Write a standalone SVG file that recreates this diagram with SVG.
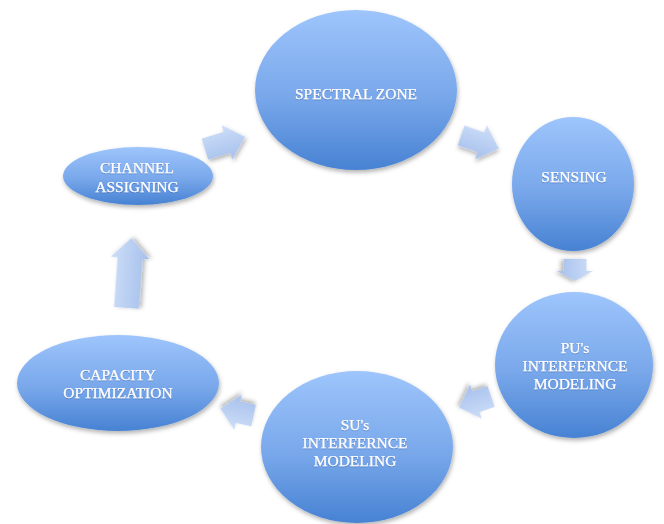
<svg xmlns="http://www.w3.org/2000/svg" width="664" height="524" viewBox="0 0 664 524">
  <defs>
    <linearGradient id="nodeFill" x1="0" y1="0" x2="0" y2="1">
      <stop offset="0" stop-color="#9ec5fc"/>
      <stop offset="0.55" stop-color="#78a7ea"/>
      <stop offset="1" stop-color="#4782d3"/>
    </linearGradient>
    <linearGradient id="arrowFill" x1="0" y1="0" x2="0" y2="1">
      <stop offset="0" stop-color="#cddef8"/>
      <stop offset="1" stop-color="#a6c0ec"/>
    </linearGradient>
    <filter id="shadow" x="-20%" y="-20%" width="140%" height="150%">
      <feDropShadow dx="1" dy="2.5" stdDeviation="2" flood-color="#000" flood-opacity="0.3"/>
    </filter>
    <filter id="textGlow" x="-10%" y="-30%" width="120%" height="160%">
      <feDropShadow dx="0" dy="0.6" stdDeviation="0.7" flood-color="#1f4f96" flood-opacity="0.6"/>
    </filter>
  </defs>
  <style>
    .node ellipse { fill: url(#nodeFill); filter: url(#shadow); }
    .node text { font-family: "Liberation Serif", "Times New Roman", serif; font-size: 15.5px; fill: #ffffff; stroke: #ffffff; stroke-width: 0.25; text-anchor: middle; filter: url(#textGlow); }
    .arrow { fill: url(#arrowFill); filter: url(#shadow); }
  </style>

  <rect width="664" height="524" fill="#ffffff"/>

  <!-- block arrows between the stages of the cycle -->
  <g id="connectors">
    <path class="arrow" transform="translate(225 143) rotate(-17)" d="M-21,-11 H2 V-18 L21,0 L2,18 V11 H-21 Z"/>
    <path class="arrow" transform="translate(480 142) rotate(19)" d="M-20,-10.5 H1 V-18 L20,0 L1,18 V10.5 H-20 Z"/>
    <path class="arrow" transform="translate(575 270) rotate(90)" d="M-11,-11.5 H1 V-18 L11,0 L1,18 V11.5 H-11 Z"/>
    <path class="arrow" transform="translate(475 402) rotate(161)" d="M-17,-11 H-1 V-18 L17,0 L-1,18 V11 H-17 Z"/>
    <path class="arrow" transform="translate(237 412) rotate(192)" d="M-17,-11 H-1 V-18 L17,0 L-1,18 V11 H-17 Z"/>
    <path class="arrow" transform="translate(129 273) rotate(-86)" d="M-35,-12.5 H15 V-19.5 L35,0 L15,19.5 V12.5 H-35 Z"/>
  </g>

  <g id="spectral-zone" class="node">
    <ellipse cx="356" cy="90" rx="101" ry="80"/>
    <text x="356" y="99">SPECTRAL ZONE</text>
  </g>

  <g id="sensing" class="node">
    <ellipse cx="573" cy="184" rx="61" ry="67"/>
    <text x="574" y="182">SENSING</text>
  </g>

  <g id="pu-interference" class="node">
    <ellipse cx="574" cy="365" rx="79" ry="73"/>
    <text x="575" y="353">PU's</text>
    <text x="575" y="371">INTERFERNCE</text>
    <text x="575" y="389">MODELING</text>
  </g>

  <g id="su-interference" class="node">
    <ellipse cx="357" cy="447" rx="96" ry="76"/>
    <text x="355" y="430">SU's</text>
    <text x="355" y="448">INTERFERNCE</text>
    <text x="355" y="466">MODELING</text>
  </g>

  <g id="capacity-optimization" class="node">
    <ellipse cx="118" cy="383" rx="101" ry="48"/>
    <text x="118" y="380">CAPACITY</text>
    <text x="118" y="398">OPTIMIZATION</text>
  </g>

  <g id="channel-assigning" class="node">
    <ellipse cx="138" cy="176" rx="75" ry="29"/>
    <text x="137" y="173">CHANNEL</text>
    <text x="137" y="192">ASSIGNING</text>
  </g>
</svg>
